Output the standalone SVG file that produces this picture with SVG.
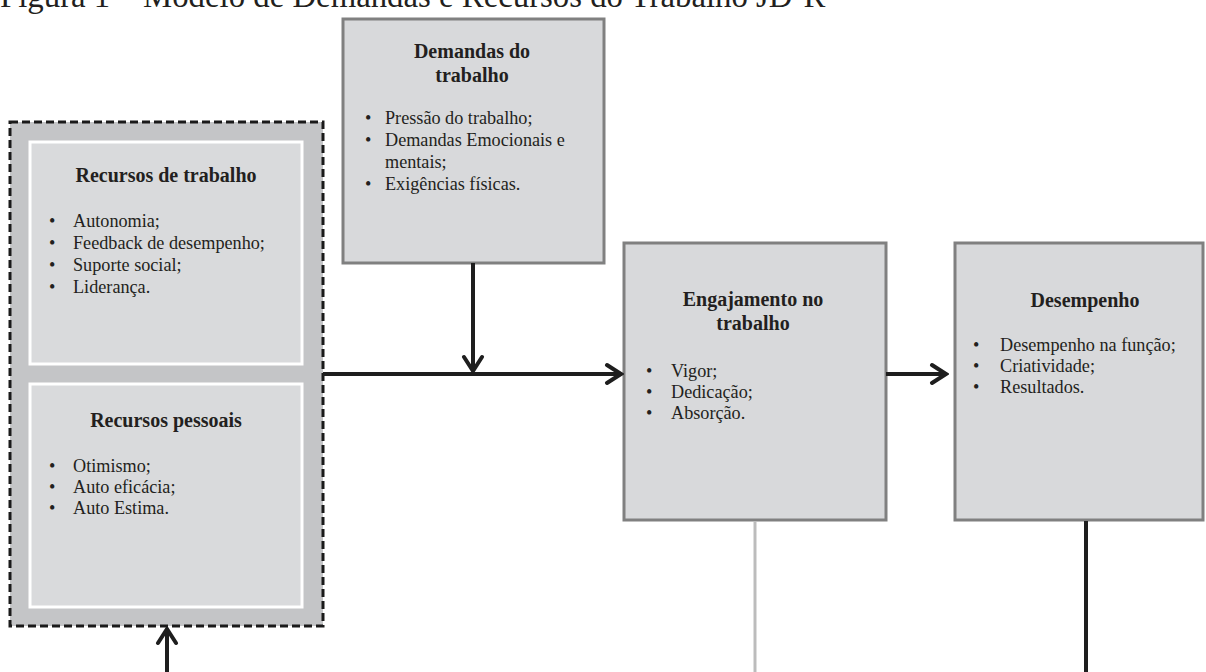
<svg xmlns="http://www.w3.org/2000/svg" width="1206" height="672" viewBox="0 0 1206 672">
  <style>
    text { font-family: "Liberation Serif", "Times New Roman", serif; fill: #231f20; }
    .title { font-size: 32.8px; }
    .head { font-size: 20px; font-weight: bold; text-anchor: middle; }
    .item { font-size: 18.2px; }
    .box { fill: #d8d9db; stroke: #808080; stroke-width: 3; }
    .inner { fill: #d9dadc; stroke: #ffffff; stroke-width: 3; }
    .group { fill: #c4c5c7; stroke: #1a1a1a; stroke-width: 3; stroke-dasharray: 8 4; }
    .link { fill: none; stroke: #1e1e1e; stroke-width: 4; }
    .link-light { fill: none; stroke: #bcbcbc; stroke-width: 3; }
  </style>
  <defs>
    <marker id="chev" markerUnits="userSpaceOnUse" viewBox="0 0 20 24" refX="17" refY="12" markerWidth="20" markerHeight="24" orient="auto">
      <path d="M3,3 L17,12 L3,21" fill="none" stroke="#1e1e1e" stroke-width="4" stroke-linecap="round" stroke-linejoin="miter"/>
    </marker>
  </defs>

  <text class="title" x="0" y="7">Figura 1 – Modelo de Demandas e Recursos do Trabalho JD-R</text>

  <!-- resources group (dashed) -->
  <g id="recursos">
    <rect class="group" x="10" y="122" width="313" height="504"/>
    <g id="recursos-trabalho">
      <rect class="inner" x="30" y="142" width="272" height="222"/>
      <text class="head" x="166" y="182">Recursos de trabalho</text>
      <text class="item" x="49" y="227">•<tspan x="73">Autonomia;</tspan></text>
      <text class="item" x="49" y="249">•<tspan x="73">Feedback de desempenho;</tspan></text>
      <text class="item" x="49" y="271">•<tspan x="73">Suporte social;</tspan></text>
      <text class="item" x="49" y="293">•<tspan x="73">Liderança.</tspan></text>
    </g>
    <g id="recursos-pessoais">
      <rect class="inner" x="30" y="384" width="272" height="223"/>
      <text class="head" x="166" y="427">Recursos pessoais</text>
      <text class="item" x="49" y="472">•<tspan x="73">Otimismo;</tspan></text>
      <text class="item" x="49" y="493">•<tspan x="73">Auto eficácia;</tspan></text>
      <text class="item" x="49" y="514">•<tspan x="73">Auto Estima.</tspan></text>
    </g>
  </g>

  <g id="demandas">
    <rect class="box" x="343" y="19" width="261" height="244"/>
    <text class="head" x="472" y="58">Demandas do</text>
    <text class="head" x="472" y="82">trabalho</text>
    <text class="item" x="365" y="124">•<tspan x="385">Pressão do trabalho;</tspan></text>
    <text class="item" x="365" y="146">•<tspan x="385">Demandas Emocionais e</tspan></text>
    <text class="item" x="385" y="168">mentais;</text>
    <text class="item" x="365" y="190">•<tspan x="385">Exigências físicas.</tspan></text>
  </g>

  <g id="engajamento">
    <rect class="box" x="624" y="243" width="262" height="277"/>
    <text class="head" x="753" y="306">Engajamento no</text>
    <text class="head" x="753" y="330">trabalho</text>
    <text class="item" x="646" y="377">•<tspan x="671">Vigor;</tspan></text>
    <text class="item" x="646" y="398">•<tspan x="671">Dedicação;</tspan></text>
    <text class="item" x="646" y="419">•<tspan x="671">Absorção.</tspan></text>
  </g>

  <g id="desempenho">
    <rect class="box" x="955" y="243" width="248" height="277"/>
    <text class="head" x="1085" y="307">Desempenho</text>
    <text class="item" x="973" y="351">•<tspan x="1000">Desempenho na função;</tspan></text>
    <text class="item" x="973" y="372">•<tspan x="1000">Criatividade;</tspan></text>
    <text class="item" x="973" y="393">•<tspan x="1000">Resultados.</tspan></text>
  </g>

  <g id="connectors">
    <line class="link" x1="323" y1="374" x2="621" y2="374" marker-end="url(#chev)"/>
    <line class="link" x1="473" y1="263" x2="473" y2="371" marker-end="url(#chev)"/>
    <line class="link" x1="886" y1="374" x2="946" y2="374" marker-end="url(#chev)"/>
    <line class="link" x1="167" y1="672" x2="167" y2="629" marker-end="url(#chev)"/>
    <line class="link-light" x1="755" y1="521" x2="755" y2="672"/>
    <line class="link" x1="1086" y1="521" x2="1086" y2="672"/>
  </g>
</svg>
